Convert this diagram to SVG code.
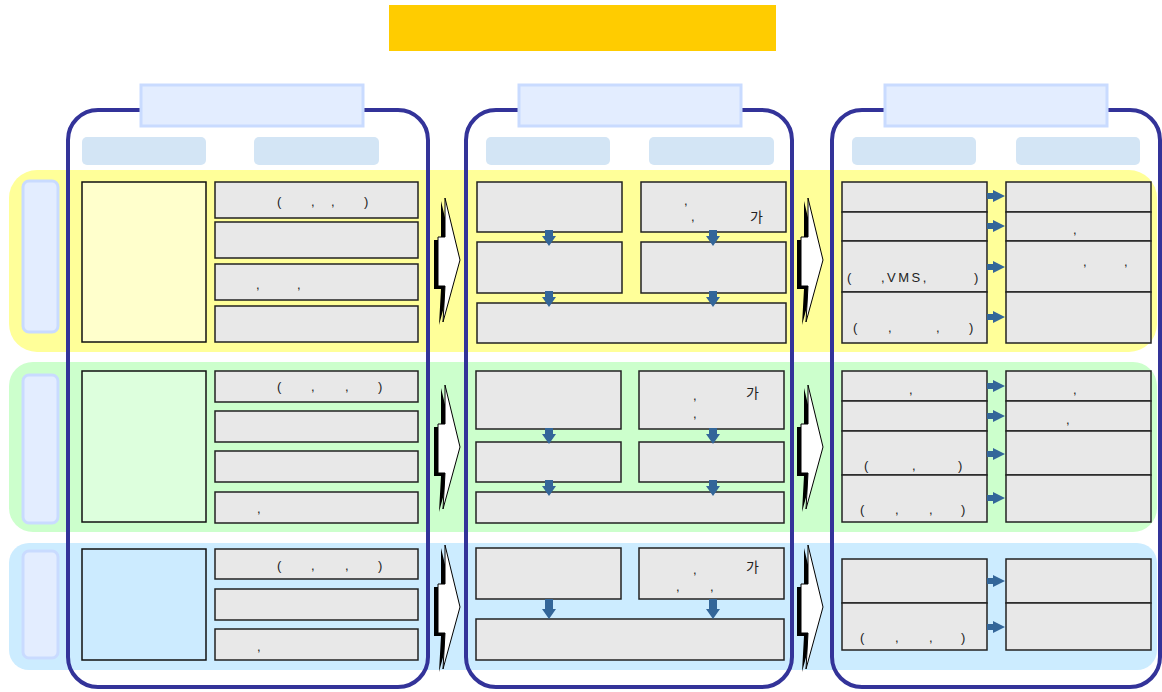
<svg xmlns="http://www.w3.org/2000/svg" width="1162" height="692" viewBox="0 0 1162 692">
  <style>
    .title { fill: #FFCC00; }
    .frame { fill: none; stroke: #333399; stroke-width: 4; }
    .head { fill: #E3EDFF; stroke: #C9DBFF; stroke-width: 3; }
    .sub { fill: #D3E5F5; }
    .tag { fill: #E3EDFF; stroke: #C9DBFF; stroke-width: 3; }
    .box { fill: #E8E8E8; stroke: #222; stroke-width: 1.5; }
    .big { stroke: #111; stroke-width: 1.5; }
    .arr { fill: #336699; }
    .flow { fill: #fff; stroke: #000; stroke-width: 1; }
    .flowsh { fill: #000; }
    text { font-family: "Liberation Sans", "Noto Sans CJK KR", sans-serif; font-size: 13px; fill: #222; }
    .ko { font-family: "Noto Sans CJK KR", "Liberation Sans", sans-serif; font-size: 14px; }
  </style>
  <defs>
    <path id="down" d="M-4,0 H4 V6 H7 L0,16 L-7,6 H-4 Z"/>
    <path id="downLong" d="M-4,0 H4 V10 H7 L0,20 L-7,10 H-4 Z"/>
    <path id="right" d="M0,-3 H6 V-6 L18,0 L6,6 V3 H0 Z"/>
    <!-- notched block arrow, drawn relative to its top-left corner -->
    <path id="block" d="M10,0 L25,62 L8,124 L10,88 L3,88 L3,39 L10,39 Z"/>
  </defs>

  <!-- title bar -->
  <rect id="title" class="title" x="389" y="5" width="387" height="46"/>

  <!-- row bands -->
  <g id="bands">
    <rect x="9" y="170" width="1148" height="182" rx="28" fill="#FFFF99"/>
    <rect x="9" y="362" width="1148" height="170" rx="24" fill="#CCFFCC"/>
    <rect x="9" y="543" width="1148" height="127" rx="20" fill="#CCECFF"/>
  </g>

  <!-- column frames -->
  <g id="frames">
    <rect class="frame" x="68" y="110" width="360" height="577" rx="30"/>
    <rect class="frame" x="466" y="110" width="326" height="577" rx="30"/>
    <rect class="frame" x="832" y="110" width="328" height="577" rx="30"/>
  </g>

  <!-- column headers -->
  <g id="headers">
    <rect class="head" x="141" y="85" width="222" height="41"/>
    <rect class="head" x="519" y="85" width="222" height="41"/>
    <rect class="head" x="885" y="85" width="222" height="41"/>
    <rect class="sub" x="82" y="137" width="124" height="28" rx="5"/>
    <rect class="sub" x="254" y="137" width="125" height="28" rx="5"/>
    <rect class="sub" x="486" y="137" width="124" height="28" rx="5"/>
    <rect class="sub" x="649" y="137" width="125" height="28" rx="5"/>
    <rect class="sub" x="852" y="137" width="124" height="28" rx="5"/>
    <rect class="sub" x="1016" y="137" width="124" height="28" rx="5"/>
  </g>

  <!-- row tags -->
  <g id="tags">
    <rect class="tag" x="23" y="181" width="35" height="151" rx="6"/>
    <rect class="tag" x="23" y="375" width="35" height="148" rx="6"/>
    <rect class="tag" x="23" y="551" width="35" height="107" rx="6"/>
  </g>

  <!-- row 1 (yellow) -->
  <g id="row1-left">
    <rect class="big" x="82" y="182" width="124" height="160" fill="#FFFFCC"/>
    <rect class="box" x="215" y="182" width="203" height="36"/>
    <rect class="box" x="215" y="222" width="203" height="36"/>
    <rect class="box" x="215" y="264" width="203" height="36"/>
    <rect class="box" x="215" y="306" width="203" height="36"/>
    <text y="206"><tspan x="277">(</tspan><tspan x="311">,</tspan><tspan x="331">,</tspan><tspan x="364">)</tspan></text>
    <text y="289"><tspan x="256">,</tspan><tspan x="297">,</tspan></text>
  </g>
  <g id="row1-mid">
    <rect class="box" x="477" y="182" width="145" height="50"/>
    <rect class="box" x="641" y="182" width="145" height="50"/>
    <rect class="box" x="477" y="242" width="145" height="51"/>
    <rect class="box" x="641" y="242" width="145" height="51"/>
    <rect class="box" x="477" y="303" width="309" height="40"/>
    <text y="205"><tspan x="684">,</tspan></text>
    <text y="221"><tspan x="691">,</tspan></text>
    <text class="ko" x="750" y="222">가</text>
  </g>
  <g id="row1-right">
    <rect class="box" x="842" y="182" width="145" height="30"/>
    <rect class="box" x="842" y="212" width="145" height="29"/>
    <rect class="box" x="842" y="241" width="145" height="51"/>
    <rect class="box" x="842" y="292" width="145" height="51"/>
    <rect class="box" x="1006" y="182" width="145" height="30"/>
    <rect class="box" x="1006" y="212" width="145" height="29"/>
    <rect class="box" x="1006" y="241" width="145" height="51"/>
    <rect class="box" x="1006" y="292" width="145" height="51"/>
    <text y="234"><tspan x="1073">,</tspan></text>
    <text y="266"><tspan x="1083">,</tspan><tspan x="1124">,</tspan></text>
    <text y="282"><tspan x="847">(</tspan><tspan x="881" letter-spacing="2.5">,VMS,</tspan><tspan x="974">)</tspan></text>
    <text y="332"><tspan x="853">(</tspan><tspan x="888">,</tspan><tspan x="936">,</tspan><tspan x="969">)</tspan></text>
  </g>

  <!-- row 2 (green) -->
  <g id="row2-left">
    <rect class="big" x="82" y="371" width="124" height="151" fill="#DDFFDD"/>
    <rect class="box" x="215" y="371" width="203" height="31"/>
    <rect class="box" x="215" y="411" width="203" height="31"/>
    <rect class="box" x="215" y="451" width="203" height="31"/>
    <rect class="box" x="215" y="492" width="203" height="31"/>
    <text y="391"><tspan x="277">(</tspan><tspan x="311">,</tspan><tspan x="345">,</tspan><tspan x="378">)</tspan></text>
    <text y="513"><tspan x="257">,</tspan></text>
  </g>
  <g id="row2-mid">
    <rect class="box" x="476" y="371" width="145" height="58"/>
    <rect class="box" x="639" y="371" width="145" height="58"/>
    <rect class="box" x="476" y="442" width="145" height="40"/>
    <rect class="box" x="639" y="442" width="145" height="40"/>
    <rect class="box" x="476" y="492" width="308" height="31"/>
    <text y="400"><tspan x="693">,</tspan></text>
    <text y="418"><tspan x="693">,</tspan></text>
    <text class="ko" x="746" y="398">가</text>
  </g>
  <g id="row2-right">
    <rect class="box" x="842" y="371" width="145" height="30"/>
    <rect class="box" x="842" y="401" width="145" height="30"/>
    <rect class="box" x="842" y="431" width="145" height="44"/>
    <rect class="box" x="842" y="475" width="145" height="47"/>
    <rect class="box" x="1006" y="371" width="145" height="30"/>
    <rect class="box" x="1006" y="401" width="145" height="30"/>
    <rect class="box" x="1006" y="431" width="145" height="44"/>
    <rect class="box" x="1006" y="475" width="145" height="47"/>
    <text y="394"><tspan x="909">,</tspan><tspan x="1073">,</tspan></text>
    <text y="424"><tspan x="1066">,</tspan></text>
    <text y="470"><tspan x="864">(</tspan><tspan x="912">,</tspan><tspan x="958">)</tspan></text>
    <text y="514"><tspan x="860">(</tspan><tspan x="895">,</tspan><tspan x="929">,</tspan><tspan x="961">)</tspan></text>
  </g>

  <!-- row 3 (blue) -->
  <g id="row3-left">
    <rect class="big" x="82" y="549" width="124" height="111" fill="#CCEBFF"/>
    <rect class="box" x="215" y="549" width="203" height="30"/>
    <rect class="box" x="215" y="589" width="203" height="31"/>
    <rect class="box" x="215" y="629" width="203" height="31"/>
    <text y="570"><tspan x="277">(</tspan><tspan x="311">,</tspan><tspan x="345">,</tspan><tspan x="378">)</tspan></text>
    <text y="651"><tspan x="257">,</tspan></text>
  </g>
  <g id="row3-mid">
    <rect class="box" x="476" y="548" width="145" height="51"/>
    <rect class="box" x="639" y="548" width="145" height="51"/>
    <rect class="box" x="476" y="619" width="308" height="41"/>
    <text y="574"><tspan x="693">,</tspan></text>
    <text y="591"><tspan x="676">,</tspan><tspan x="710">,</tspan></text>
    <text class="ko" x="746" y="572">가</text>
  </g>
  <g id="row3-right">
    <rect class="box" x="842" y="559" width="145" height="44"/>
    <rect class="box" x="842" y="603" width="145" height="47"/>
    <rect class="box" x="1006" y="559" width="145" height="44"/>
    <rect class="box" x="1006" y="603" width="145" height="47"/>
    <text y="642"><tspan x="860">(</tspan><tspan x="895">,</tspan><tspan x="929">,</tspan><tspan x="961">)</tspan></text>
  </g>

  <!-- connectors -->
  <g id="connectors">
    <!-- stage-to-stage block arrows -->
    <g transform="translate(435,198)">
      <use href="#block" class="flowsh" transform="translate(-4,3)"/>
      <use href="#block" class="flow"/>
    </g>
    <g transform="translate(435,385)">
      <use href="#block" class="flowsh" transform="translate(-4,3)"/>
      <use href="#block" class="flow"/>
    </g>
    <g transform="translate(435,545)">
      <use href="#block" class="flowsh" transform="translate(-4,3)"/>
      <use href="#block" class="flow"/>
    </g>
    <g transform="translate(798,198)">
      <use href="#block" class="flowsh" transform="translate(-4,3)"/>
      <use href="#block" class="flow"/>
    </g>
    <g transform="translate(798,385)">
      <use href="#block" class="flowsh" transform="translate(-4,3)"/>
      <use href="#block" class="flow"/>
    </g>
    <g transform="translate(798,545)">
      <use href="#block" class="flowsh" transform="translate(-4,3)"/>
      <use href="#block" class="flow"/>
    </g>

    <!-- middle column downward arrows -->
    <use href="#down" class="arr" x="549" y="230"/>
    <use href="#down" class="arr" x="713" y="230"/>
    <use href="#down" class="arr" x="549" y="291"/>
    <use href="#down" class="arr" x="713" y="291"/>
    <use href="#down" class="arr" x="549" y="428"/>
    <use href="#down" class="arr" x="713" y="428"/>
    <use href="#down" class="arr" x="549" y="480"/>
    <use href="#down" class="arr" x="713" y="480"/>
    <use href="#downLong" class="arr" x="549" y="599"/>
    <use href="#downLong" class="arr" x="713" y="599"/>

    <!-- right column arrows -->
    <use href="#right" class="arr" x="987" y="196"/>
    <use href="#right" class="arr" x="987" y="226"/>
    <use href="#right" class="arr" x="987" y="267"/>
    <use href="#right" class="arr" x="987" y="317"/>
    <use href="#right" class="arr" x="987" y="386"/>
    <use href="#right" class="arr" x="987" y="416"/>
    <use href="#right" class="arr" x="987" y="454"/>
    <use href="#right" class="arr" x="987" y="498"/>
    <use href="#right" class="arr" x="987" y="581"/>
    <use href="#right" class="arr" x="987" y="627"/>
  </g>
</svg>
